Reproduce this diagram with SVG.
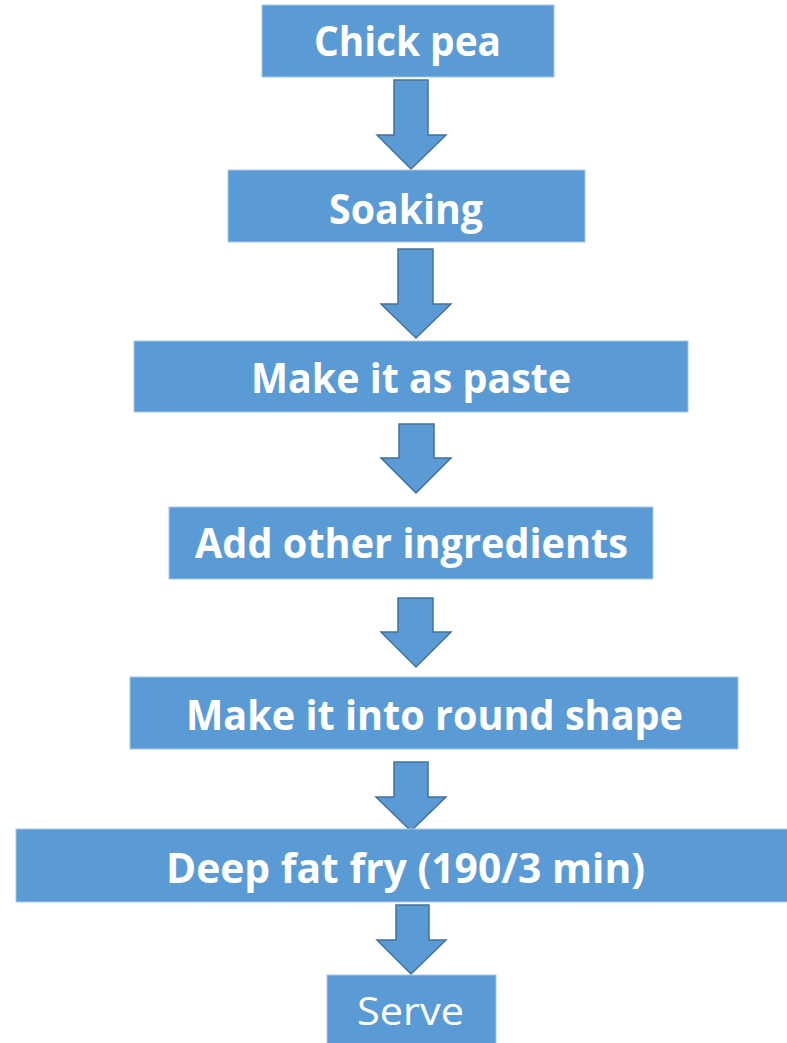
<svg xmlns="http://www.w3.org/2000/svg" width="787" height="1043" viewBox="0 0 787 1043">
<style>
.box{fill:#5B9BD5;stroke:#A7C7E7;stroke-width:1}
.lbl{fill:#FFFFFF;font-family:"Open Sans","Liberation Sans",sans-serif;font-size:41px;font-weight:bold;text-anchor:middle}
.reg{font-weight:normal;font-size:39px}
.arr{fill:#5B9BD5;stroke:#41719C;stroke-width:1.5;stroke-linejoin:miter}
</style>
<rect width="787" height="1043" fill="#FFFFFF"/>
<g id="connectors">
<polygon class="arr" points="394,80 428,80 428,135 446,135 411,169 377,135 394,135"/>
<polygon class="arr" points="398,249 433,249 433,304 451,304 416,338 381,304 398,304"/>
<polygon class="arr" points="399,424 434,424 434,458 451,458 416,493 381,458 399,458"/>
<polygon class="arr" points="398,598 433,598 433,632 451,632 416,667 381,632 398,632"/>
<polygon class="arr" points="394,762 428,762 428,797 446,797 411,831 376,797 394,797"/>
<polygon class="arr" points="396,905 429,905 429,940 446,940 411,974 377,940 396,940"/>
</g>
<g id="node-chickpea">
<rect class="box" x="262" y="5" width="292" height="72"/>
<text class="lbl" x="407.5" y="56" textLength="187" lengthAdjust="spacingAndGlyphs">Chick pea</text>
</g>
<g id="node-soaking">
<rect class="box" x="228" y="170" width="357" height="72"/>
<text class="lbl" x="406" y="224" textLength="154" lengthAdjust="spacingAndGlyphs">Soaking</text>
</g>
<g id="node-paste">
<rect class="box" x="134" y="341" width="554" height="71"/>
<text class="lbl" x="411" y="393" textLength="320" lengthAdjust="spacingAndGlyphs">Make it as paste</text>
</g>
<g id="node-ingredients">
<rect class="box" x="169" y="507" width="484" height="72"/>
<text class="lbl" x="411.5" y="558" textLength="433" lengthAdjust="spacingAndGlyphs">Add other ingredients</text>
</g>
<g id="node-round">
<rect class="box" x="130" y="677" width="608" height="72"/>
<text class="lbl" x="434.5" y="730" textLength="497" lengthAdjust="spacingAndGlyphs">Make it into round shape</text>
</g>
<g id="node-fry">
<rect class="box" x="16" y="829" width="780" height="73"/>
<text class="lbl" x="405.5" y="883" textLength="479" lengthAdjust="spacingAndGlyphs">Deep fat fry (190/3 min)</text>
</g>
<g id="node-serve">
<rect class="box" x="327" y="975" width="169" height="70"/>
<text class="lbl reg" x="410.5" y="1025" textLength="107" lengthAdjust="spacingAndGlyphs">Serve</text>
</g>
</svg>
